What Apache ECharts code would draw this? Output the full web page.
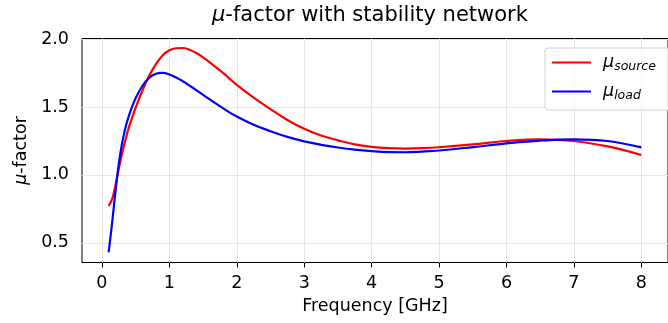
<!DOCTYPE html>
<html><head><meta charset="utf-8">
<script src="https://cdn.jsdelivr.net/npm/echarts@6/dist/echarts.min.js"></script>
<style>html,body{margin:0;padding:0;background:#fff}#c{width:668px;height:323px}</style>
</head><body><div id="c"></div>
<script>
const freq = [0.1,0.15,0.2,0.25,0.3,0.35,0.4,0.45,0.5,0.6,0.7,0.8,0.9,1.0,1.1,1.2,1.3,1.4,1.5,1.6,1.8,2.0,2.25,2.5,2.75,3.0,3.25,3.5,3.75,4.0,4.25,4.5,4.75,5.0,5.5,6.0,6.5,7.0,7.5,8.0];
const muSource = [0.772,0.82,0.92,1.045,1.16,1.26,1.35,1.425,1.495,1.62,1.73,1.815,1.88,1.918,1.933,1.935,1.922,1.898,1.866,1.83,1.75,1.664,1.57,1.485,1.405,1.34,1.29,1.255,1.225,1.207,1.197,1.194,1.197,1.204,1.225,1.25,1.262,1.25,1.21,1.147];
const muLoad = [0.43,0.64,0.87,1.08,1.235,1.35,1.435,1.505,1.565,1.655,1.715,1.745,1.752,1.74,1.717,1.69,1.658,1.625,1.59,1.556,1.49,1.43,1.37,1.322,1.28,1.247,1.222,1.202,1.186,1.175,1.168,1.167,1.172,1.18,1.205,1.232,1.253,1.262,1.25,1.203];
const xTicks = [0,1,2,3,4,5,6,7,8];
const yTicks = [0.5,1.0,1.5,2.0];

const F = 'DejaVu Sans';
const chart = echarts.init(document.getElementById('c'));
const pts = a => freq.map((f,i)=>[f,a[i]]);
chart.setOption({
  animation:false,
  textStyle:{fontFamily:F},
  title:{text:'{i|μ}-factor with stability network', left:212, top:5, padding:0,
    textStyle:{fontFamily:F,fontSize:21,fontWeight:'normal',color:'#000',
      rich:{i:{fontFamily:F,fontSize:21,fontStyle:'italic',color:'#000'}}}},
  grid:{left:82, top:38.5, right:-10, bottom:60.5, show:true, borderColor:'#000', borderWidth:1},
  legend:{left:545, top:48, orient:'vertical', itemWidth:39, itemHeight:2, itemGap:8,
    padding:[4,16,8,7], backgroundColor:'rgba(255,255,255,0.8)', borderColor:'#d0d0d0', borderWidth:1, borderRadius:3,
    icon:'rect',
    data:['source','load'],
    formatter: n => '{m|μ}{s|'+n+'}',
    textStyle:{fontFamily:F, color:'#000', rich:{
      m:{fontFamily:F,fontSize:17.5,fontStyle:'italic',color:'#000',lineHeight:20,padding:[0,0,0,7]},
      s:{fontFamily:F,fontSize:12.5,fontStyle:'italic',color:'#000',padding:[8,0,0,0],lineHeight:20}}}},
  xAxis:{type:'value', min:-0.295, max:8.395,
    name:'Frequency [GHz]', nameLocation:'middle', nameGap:31,
    nameTextStyle:{fontFamily:F,fontSize:17.5,color:'#000'},
    axisLine:{show:true,lineStyle:{color:'#000',width:1}},
    axisTick:{show:true,length:5,lineStyle:{color:'#000'},customValues:xTicks},
    axisLabel:{customValues:xTicks,fontFamily:F,fontSize:17.5,color:'#000',margin:12},
    splitLine:{show:false}},
  yAxis:{type:'value', min:0.355, max:2.005,
    name:'{i|μ}-factor', nameLocation:'middle', nameGap:51,
    nameTextStyle:{fontFamily:F,fontSize:17.5,color:'#000',rich:{i:{fontFamily:F,fontSize:17.5,fontStyle:'italic',color:'#000'}}},
    axisLine:{show:true,lineStyle:{color:'#000',width:1}},
    axisTick:{show:true,length:5,lineStyle:{color:'#000'},customValues:yTicks},
    axisLabel:{customValues:yTicks,formatter:v=>v.toFixed(1),fontFamily:F,fontSize:17.5,color:'#000',margin:13},
    splitLine:{show:false}},
  series:[
    {name:'source', type:'line', data:pts(muSource), smooth:0.4, showSymbol:false,
      lineStyle:{color:'#ff0000',width:2.2}, itemStyle:{color:'#ff0000'}, z:3,
      markLine:{silent:true, symbol:'none', label:{show:false}, animation:false,
        lineStyle:{color:'#e6e6e6',width:1,type:'solid'}, z:1,
        data: xTicks.map(v=>({xAxis:v})).concat(yTicks.map(v=>({yAxis:v})))}},
    {name:'load', type:'line', data:pts(muLoad), smooth:0.4, showSymbol:false,
      lineStyle:{color:'#0000ff',width:2.2}, itemStyle:{color:'#0000ff'}, z:3}
  ]
});
</script></body></html>
